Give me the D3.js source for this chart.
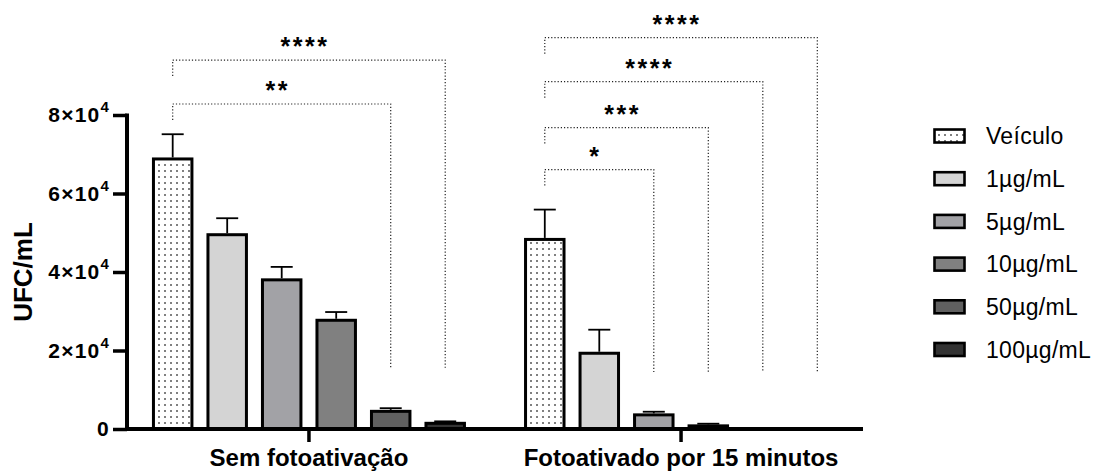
<!DOCTYPE html>
<html>
<head>
<meta charset="utf-8">
<script src="https://cdn.jsdelivr.net/npm/d3@7"></script>
<style>
  html, body { margin: 0; padding: 0; background: #fff; }
  svg { display: block; font-family: "Liberation Sans", Arial, sans-serif; }
</style>
</head>
<body>
<svg id="chart" width="1097" height="473"></svg>
<script>
// ---------- data ----------
const groups = ["Sem fotoativação", "Fotoativado por 15 minutos"];
const series = ["Veículo", "1µg/mL", "5µg/mL", "10µg/mL", "50µg/mL", "100µg/mL"];
const meansSem = [68800, 49500, 38000, 27700, 4500, 1450];
const errSem   = [6300, 4200, 3300, 2100, 800, 500];
const meansFoto = [48300, 19300, 3600, 800, 0, 0];
const errFoto   = [7600, 6000, 800, 550, 0, 0];
const yTicks = [0, 20000, 40000, 60000, 80000];
const yTickLabels = ["0", "2×10", "4×10", "6×10", "8×10"];
const yTickExponents = ["", "4", "4", "4", "4"];
const yLabel = "UFC/mL";

// significance brackets
const bracketGroup  = [0, 0, 1, 1, 1, 1];
const bracketFrom   = [0, 0, 0, 0, 0, 0];
const bracketTo     = [4, 5, 2, 3, 4, 5];
const bracketLevel  = [82800, 94000, 66100, 76800, 88500, 99700];
const bracketLegEnd = [15600, 15600, 14500, 14500, 14500, 14500];
const bracketLabel  = ["**", "****", "*", "***", "****", "****"];

const values = [meansSem, meansFoto];
const errors = [errSem, errFoto];

// ---------- styles ----------
const fills = ["url(#dots)", "#d4d4d4", "#a2a2a6", "#808080", "#606060", "#333333"];

const svg = d3.select("#chart");
const defs = svg.append("defs");
const pat = defs.append("pattern")
  .attr("id", "dots").attr("patternUnits", "userSpaceOnUse")
  .attr("width", 6).attr("height", 6);
pat.append("rect").attr("width", 6).attr("height", 6).attr("fill", "#fff");
pat.append("rect").attr("x", 2.2).attr("y", 2.2).attr("width", 1.6).attr("height", 1.6).attr("fill", "#3a3a3a");

// ---------- scales ----------
const y = d3.scaleLinear().domain([0, 80000]).range([429, 115]);
const x0 = d3.scaleBand().domain(groups).range([127, 863]).paddingInner(0.03).paddingOuter(0.004);
const x1 = d3.scaleBand().domain(series).range([0, x0.bandwidth()]).paddingInner(0.294).paddingOuter(0.458);

// ---------- bars ----------
const data = [];
groups.forEach((g, gi) => series.forEach((s, si) => {
  data.push({ g, gi, s, si, v: values[gi][si], e: errors[gi][si] });
}));

const barG = svg.append("g");
barG.selectAll("rect.bar").data(data.filter(d => d.v > 0)).join("rect")
  .attr("class", "bar")
  .attr("x", d => x0(d.g) + x1(d.s))
  .attr("width", x1.bandwidth())
  .attr("y", d => y(d.v))
  .attr("height", d => y(0) - y(d.v))
  .attr("fill", d => fills[d.si])
  .attr("stroke", "#000").attr("stroke-width", 3);

// error bars (upper only)
const errG = svg.append("g").attr("stroke", "#000").attr("stroke-width", 1.8);
data.filter(d => d.e > 0).forEach(d => {
  const cx = x0(d.g) + x1(d.s) + x1.bandwidth() / 2;
  errG.append("line").attr("x1", cx).attr("x2", cx).attr("y1", y(d.v) - 1.5).attr("y2", y(d.v + d.e));
  errG.append("line").attr("x1", cx - 11).attr("x2", cx + 11).attr("y1", y(d.v + d.e)).attr("y2", y(d.v + d.e));
});

// ---------- axes ----------
const yAxis = d3.axisLeft(y).tickValues(yTicks).tickSize(14).tickPadding(3)
  .tickFormat((d, i) => yTickLabels[i]);
const yAxisG = svg.append("g").attr("transform", "translate(127,0)").call(yAxis);
yAxisG.select(".domain").remove();
yAxisG.append("line").attr("x1", 0).attr("x2", 0).attr("y1", y(80000) - 1.5).attr("y2", y(0) + 2)
  .attr("stroke", "#000").attr("stroke-width", 4);
yAxisG.selectAll(".tick line").attr("stroke", "#000").attr("stroke-width", 3.5);
yAxisG.selectAll(".tick text")
  .attr("fill", "#000").attr("font-size", 21).attr("font-weight", "bold")
  .attr("font-family", "Liberation Sans, Arial, sans-serif")
  .attr("letter-spacing", 1.2)
  .each(function (d, i) {
    const t = d3.select(this);
    const base = yTickLabels[i], ex = yTickExponents[i];
    t.text(null);
    t.append("tspan").text(base);
    if (ex) t.append("tspan").attr("font-size", 15).attr("dy", "-0.65em").text(ex);
  });

const xAxis = d3.axisBottom(x0).tickSize(13).tickSizeOuter(0);
const xAxisG = svg.append("g").attr("transform", `translate(0,${y(0)})`).call(xAxis);
xAxisG.select(".domain").remove();
xAxisG.append("line").attr("x1", 125).attr("x2", 863).attr("y1", 0).attr("y2", 0)
  .attr("stroke", "#000").attr("stroke-width", 4);
xAxisG.selectAll(".tick line").attr("stroke", "#000").attr("stroke-width", 3.5);
xAxisG.selectAll(".tick text")
  .attr("fill", "#000").attr("font-size", 24).attr("font-weight", "bold")
  .attr("font-family", "Liberation Sans, Arial, sans-serif")
  .attr("y", 37).attr("dy", 0);

// y label
svg.append("text")
  .attr("transform", "translate(32,272) rotate(-90)")
  .attr("text-anchor", "middle").attr("font-size", 26).attr("font-weight", "bold")
  .text(yLabel);

// ---------- significance brackets ----------
const brG = svg.append("g");
bracketLabel.forEach((lab, i) => {
  const g = groups[bracketGroup[i]];
  const xa = x0(g) + x1(series[bracketFrom[i]]) + x1.bandwidth() / 2;
  const xb = x0(g) + x1(series[bracketTo[i]]) + x1.bandwidth() / 2;
  const yl = y(bracketLevel[i]);
  brG.append("path")
    .attr("d", `M${xa},${yl + 16}V${yl}H${xb}V${y(bracketLegEnd[i])}`)
    .attr("fill", "none").attr("stroke", "#222").attr("stroke-width", 1.2)
    .attr("stroke-dasharray", "1.2,2");
  brG.append("text")
    .attr("x", (xa + xb) / 2 - 4).attr("y", yl - 5)
    .attr("text-anchor", "middle").attr("font-size", 25).attr("font-weight", "bold")
    .attr("letter-spacing", 2.5)
    .text(lab);
});

// ---------- legend ----------
const leg = svg.append("g");
series.forEach((s, i) => {
  const cy = 136 + i * 42.7;
  leg.append("rect").attr("x", 934.5).attr("y", cy - 6.5).attr("width", 30).attr("height", 13)
    .attr("fill", fills[i]).attr("stroke", "#000").attr("stroke-width", 2.6);
  leg.append("text").attr("x", 986).attr("y", cy).attr("dy", "0.36em")
    .attr("font-size", 23).attr("letter-spacing", 0.3).attr("fill", "#000").text(s);
});
</script>
</body>
</html>
